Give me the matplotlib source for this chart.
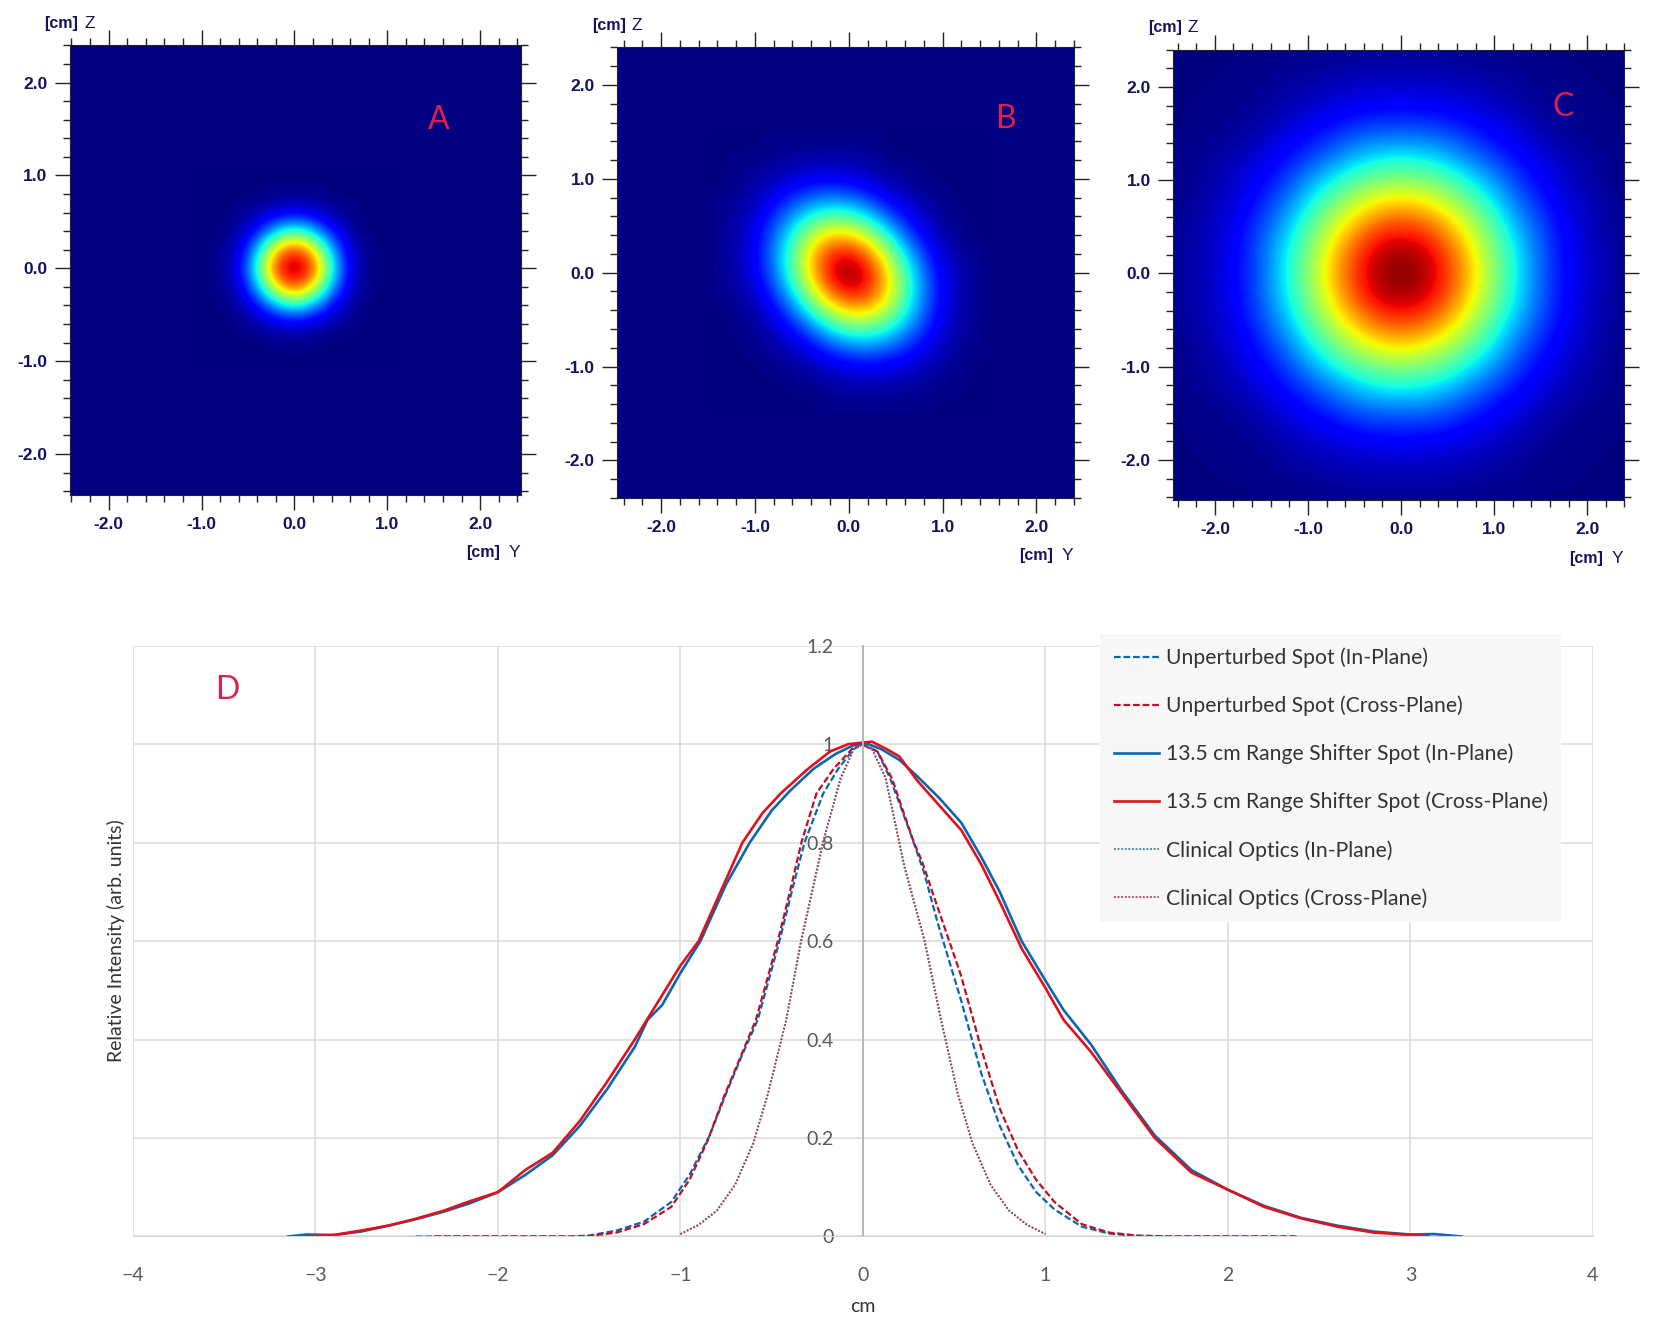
from matplotlib import pyplot as plt
from matplotlib.lines import Line2D
import numpy as np

W, H = 1568.0, 1254.0   # coordinates I measured the layout in

spot_a = [
	[100, 88, 40, 9, 1, 0],
	[88, 67, 30, 7, 1, 0],
	[40, 30, 13, 3, 0, 0],
	[9, 7, 3, 1, 0, 0],
	[1, 1, 0, 0, 0, 0],
	[0, 0, 0, 0, 0, 0],
]

# spot B is tilted so the whole grid is listed, top row z=+1.4, left col y=-1.4
spot_b = [
	[0, 0, 0, 1, 1, 1, 1, 1, 1, 0, 0, 0, 0, 0, 0],
	[0, 1, 1, 2, 3, 4, 4, 4, 3, 1, 1, 0, 0, 0, 0],
	[0, 1, 3, 5, 8, 10, 11, 10, 7, 4, 2, 1, 0, 0, 0],
	[1, 2, 5, 10, 17, 22, 25, 23, 18, 11, 6, 3, 1, 0, 0],
	[1, 3, 8, 17, 28, 39, 45, 44, 35, 23, 13, 6, 2, 1, 0],
	[1, 4, 10, 22, 39, 57, 69, 69, 58, 40, 23, 11, 4, 1, 0],
	[1, 4, 11, 25, 45, 69, 87, 91, 80, 58, 35, 18, 7, 3, 1],
	[1, 4, 10, 23, 44, 69, 91, 100, 91, 69, 44, 23, 10, 4, 1],
	[1, 3, 7, 18, 35, 58, 80, 91, 87, 69, 45, 25, 11, 4, 1],
	[0, 1, 4, 11, 23, 40, 58, 69, 69, 57, 39, 22, 10, 4, 1],
	[0, 1, 2, 6, 13, 23, 35, 44, 45, 39, 28, 17, 8, 3, 1],
	[0, 0, 1, 3, 6, 11, 18, 23, 25, 22, 17, 10, 5, 2, 1],
	[0, 0, 0, 1, 2, 4, 7, 10, 11, 10, 8, 5, 3, 1, 0],
	[0, 0, 0, 0, 1, 1, 3, 4, 4, 4, 3, 2, 1, 1, 0],
	[0, 0, 0, 0, 0, 0, 1, 1, 1, 1, 1, 1, 0, 0, 0],
]

# spot C, one quadrant, 0.2 cm cells
spot_c = [
	[100, 97, 90, 79, 66, 52, 39, 27, 18, 12, 7, 4, 2],
	[97, 95, 88, 77, 64, 50, 38, 27, 18, 11, 7, 4, 2],
	[90, 88, 81, 71, 59, 47, 35, 25, 17, 11, 6, 4, 2],
	[79, 77, 71, 62, 52, 41, 30, 22, 15, 9, 6, 3, 2],
	[66, 64, 59, 52, 43, 34, 25, 18, 12, 8, 5, 3, 1],
	[52, 50, 47, 41, 34, 27, 20, 14, 10, 6, 4, 2, 1],
	[39, 38, 35, 30, 25, 20, 15, 11, 7, 5, 3, 2, 1],
	[27, 27, 25, 22, 18, 14, 11, 7, 5, 3, 2, 1, 1],
	[18, 18, 17, 15, 12, 10, 7, 5, 3, 2, 1, 1, 0],
	[12, 11, 11, 9, 8, 6, 5, 3, 2, 1, 1, 1, 0],
	[7, 7, 6, 6, 5, 4, 3, 2, 1, 1, 1, 0, 0],
	[4, 4, 4, 3, 3, 2, 2, 1, 1, 1, 0, 0, 0],
	[2, 2, 2, 2, 1, 1, 1, 1, 0, 0, 0, 0, 0],
]

# profiles in panel D
rs_in_x = [-3.15, -3.05, -2.9, -2.75, -2.6, -2.45, -2.3, -2.15, -2.0, -1.85, -1.7, -1.55, -1.4, -1.25, -1.18, -1.1, -1.0, -0.89, -0.75, -0.62, -0.5, -0.4, -0.27, -0.15, -0.05, 0.03, 0.1, 0.2, 0.3, 0.42, 0.54, 0.65, 0.75, 0.87, 1.0, 1.1, 1.25, 1.42, 1.6, 1.8, 2.0, 2.2, 2.4, 2.6, 2.8, 3.0, 3.13, 3.28]
rs_in_y = [0.0, 0.004, 0.003, 0.01, 0.022, 0.035, 0.05, 0.068, 0.09, 0.125, 0.165, 0.225, 0.3, 0.385, 0.44, 0.47, 0.535, 0.6, 0.715, 0.8, 0.865, 0.905, 0.95, 0.98, 0.998, 1.0, 0.99, 0.968, 0.934, 0.89, 0.84, 0.77, 0.7, 0.6, 0.52, 0.46, 0.39, 0.295, 0.205, 0.135, 0.095, 0.062, 0.038, 0.022, 0.01, 0.004, 0.005, 0.0]
rs_cross_x = [-3.05, -2.9, -2.75, -2.6, -2.45, -2.3, -2.15, -2.0, -1.85, -1.7, -1.55, -1.4, -1.25, -1.1, -1.0, -0.9, -0.78, -0.66, -0.55, -0.45, -0.3, -0.18, -0.08, 0.05, 0.13, 0.2, 0.3, 0.42, 0.54, 0.65, 0.75, 0.87, 1.0, 1.1, 1.25, 1.42, 1.6, 1.8, 2.0, 2.2, 2.4, 2.6, 2.8, 3.0, 3.1]
rs_cross_y = [0.0, 0.003, 0.012, 0.022, 0.036, 0.052, 0.072, 0.09, 0.135, 0.17, 0.235, 0.315, 0.4, 0.49, 0.55, 0.6, 0.7, 0.8, 0.86, 0.9, 0.95, 0.985, 1.0, 1.005, 0.99, 0.975, 0.925, 0.875, 0.825, 0.755, 0.68, 0.585, 0.505, 0.44, 0.375, 0.29, 0.2, 0.13, 0.095, 0.06, 0.037, 0.02, 0.008, 0.003, 0.0]
unp_in_x = [-2.45, -1.6, -1.5, -1.35, -1.2, -1.05, -0.95, -0.84, -0.75, -0.66, -0.576, -0.457, -0.39, -0.32, -0.217, -0.135, -0.05, 0.0, 0.08, 0.15, 0.25, 0.335, 0.41, 0.538, 0.65, 0.75, 0.85, 0.95, 1.05, 1.2, 1.35, 1.5, 1.7, 2.38]
unp_in_y = [0.0, 0.0, 0.002, 0.012, 0.03, 0.07, 0.125, 0.205, 0.29, 0.37, 0.44, 0.6, 0.7, 0.8, 0.9, 0.95, 0.99, 1.0, 0.985, 0.93, 0.83, 0.74, 0.637, 0.48, 0.33, 0.225, 0.145, 0.09, 0.055, 0.02, 0.006, 0.001, 0.0, 0.0]
unp_cross_x = [-2.35, -1.6, -1.5, -1.35, -1.2, -1.05, -0.95, -0.85, -0.76, -0.67, -0.586, -0.466, -0.4, -0.337, -0.254, -0.16, -0.06, -0.01, 0.08, 0.16, 0.225, 0.28, 0.326, 0.39, 0.538, 0.65, 0.75, 0.85, 0.95, 1.05, 1.2, 1.35, 1.5, 1.7, 2.38]
unp_cross_y = [0.0, 0.0, 0.001, 0.008, 0.025, 0.06, 0.115, 0.195, 0.285, 0.365, 0.44, 0.6, 0.7, 0.8, 0.9, 0.95, 0.99, 1.0, 0.985, 0.93, 0.859, 0.8, 0.76, 0.69, 0.53, 0.38, 0.26, 0.175, 0.115, 0.07, 0.025, 0.008, 0.002, 0.0, 0.0]
clin_in_x = [-1.0, -0.9, -0.8, -0.7, -0.6, -0.52, -0.42, -0.337, -0.217, -0.125, -0.05, 0.0, 0.05, 0.123, 0.225, 0.335, 0.427, 0.52, 0.6, 0.7, 0.8, 0.9, 1.0]
clin_in_y = [0.005, 0.024, 0.053, 0.105, 0.19, 0.29, 0.44, 0.6, 0.8, 0.93, 0.99, 1.0, 0.99, 0.934, 0.753, 0.603, 0.44, 0.29, 0.19, 0.105, 0.053, 0.024, 0.005]
clin_cross_x = [-1.0, -0.9, -0.8, -0.7, -0.6, -0.52, -0.42, -0.34, -0.22, -0.12, -0.05, 0.0, 0.05, 0.125, 0.23, 0.34, 0.43, 0.52, 0.6, 0.7, 0.8, 0.9, 1.0]
clin_cross_y = [0.005, 0.023, 0.052, 0.105, 0.19, 0.29, 0.44, 0.6, 0.8, 0.93, 0.99, 1.0, 0.99, 0.93, 0.75, 0.6, 0.44, 0.29, 0.19, 0.105, 0.053, 0.023, 0.005]

y_labels = ['0', '0.2', '0.4', '0.6', '0.8', '1', '1.2']
y_ticks = [0, 0.2, 0.4, 0.6, 0.8, 1.0, 1.2]
x_ticks = [-4, -3, -2, -1, 0, 1, 2, 3, 4]

NAVY = '#14145e'
CRIMSON = '#dc1f4f'
GREY = '#595959'
BLUE = '#0b66b2'
RED = '#e3101c'
DARK_RED = '#c00f22'
TEAL = '#2f7fa8'
ROSE = '#b8404e'


def box(l, t, r, b):
	return [l / W, 1 - b / H, (r - l) / W, (b - t) / H]


def put(fig, x, y, s, **kw):
	fig.text(x / W, 1 - y / H, s, **kw)


# mirror a quadrant into the full grid, centre cell kept once
def mirror(q):
	q = np.array(q, dtype=float)
	right = np.hstack([q[:, :0:-1], q])
	return np.vstack([right[:0:-1], right])


def draw_spot(fig, grid, half, frame, lims, letter, letter_xy):
	l, t, r, b = frame
	ax = fig.add_axes(box(l, t, r, b))
	ax.set_facecolor(plt.cm.jet(0.0))
	ax.imshow(grid, extent=[-half, half, -half, half], cmap='jet', vmin=0, vmax=100,
		interpolation='bicubic', origin='upper', aspect='auto')
	ax.set_xlim(lims[0], lims[1])
	ax.set_ylim(lims[2], lims[3])
	major = [-2, -1, 0, 1, 2]
	ax.set_xticks(major)
	ax.set_yticks(major)
	ax.set_xticks(np.arange(-2.4, 2.41, 0.2), minor=True)
	ax.set_yticks(np.arange(-2.4, 2.41, 0.2), minor=True)
	ax.set_xticklabels(['-2.0', '-1.0', '0.0', '1.0', '2.0'])
	ax.set_yticklabels(['-2.0', '-1.0', '0.0', '1.0', '2.0'])
	ax.tick_params(which='major', direction='out', length=11, width=1, color='#222222',
		top=True, right=True, labelcolor=NAVY, pad=5, labelsize=12.5)
	ax.tick_params(which='minor', direction='out', length=5, width=1, color='#222222',
		top=True, right=True)
	for lab in ax.get_xticklabels() + ax.get_yticklabels():
		lab.set_fontweight('bold')
		lab.set_family('Liberation Sans')
	for s in ax.spines.values():
		s.set_linewidth(0.8)
		s.set_color('#222222')
	# axis captions, bold unit and plain letter
	put(fig, l - 24, t - 21, '[cm]', fontsize=11.5, fontweight='bold', color=NAVY,
		family='Liberation Sans', va='center')
	put(fig, l + 14, t - 21, 'Z', fontsize=12.5, color=NAVY, family='Liberation Sans', va='center')
	put(fig, r - 52, b + 55, '[cm]', fontsize=11.5, fontweight='bold', color=NAVY,
		family='Liberation Sans', va='center')
	put(fig, r - 12, b + 55, 'Y', fontsize=12.5, color=NAVY, family='Liberation Sans', va='center')
	put(fig, letter_xy[0], letter_xy[1], letter, fontsize=23, color=CRIMSON, family='Lato',
		ha='center', va='center')


def draw_profiles(fig):
	ax = fig.add_axes(box(126, 612, 1510, 1172))
	ax.set_xlim(-4, 4)
	ax.set_ylim(0, 1.2)
	ax.set_xticks(x_ticks)
	ax.set_yticks(y_ticks)
	ax.set_yticklabels(y_labels)
	ax.grid(True, color='#dadada', linewidth=1.1)
	ax.set_axisbelow(True)
	for s in ['top', 'right']:
		ax.spines[s].set_visible(False)
	ax.spines['bottom'].set_color('#d4d4d4')
	ax.spines['left'].set_position(('data', 0))
	ax.spines['left'].set_color('#b8b8b8')
	ax.spines['left'].set_linewidth(1.4)
	ax.tick_params(length=0, labelsize=14, labelcolor=GREY)
	ax.tick_params(axis='x', pad=22)
	ax.tick_params(axis='y', pad=21)
	for lab in ax.get_xticklabels() + ax.get_yticklabels():
		lab.set_family('Lato')
	dash = (0, (3.0, 1.3))
	dot = (0, (1.0, 1.0))
	ax.plot(unp_in_x, unp_in_y, color=BLUE, lw=1.6, ls=dash, label='Unperturbed Spot (In-Plane)')
	ax.plot(unp_cross_x, unp_cross_y, color=DARK_RED, lw=1.6, ls=dash, label='Unperturbed Spot (Cross-Plane)')
	ax.plot(rs_in_x, rs_in_y, color=BLUE, lw=1.9, label='13.5 cm Range Shifter Spot (In-Plane)')
	ax.plot(rs_cross_x, rs_cross_y, color=RED, lw=1.9, label='13.5 cm Range Shifter Spot (Cross-Plane)')
	ax.plot(clin_in_x, clin_in_y, color=TEAL, lw=1.3, ls=dot, label='Clinical Optics (In-Plane)')
	ax.plot(clin_cross_x, clin_cross_y, color=ROSE, lw=1.3, ls=dot, label='Clinical Optics (Cross-Plane)')
	leg = ax.legend(loc='upper left', bbox_to_anchor=(1043 / W, 1 - 601 / H), bbox_transform=fig.transFigure,
		prop={'family': 'Lato', 'size': 15.2}, frameon=True, facecolor='#f7f7f7', edgecolor='none',
		fancybox=False, framealpha=1, handlelength=2.15, handletextpad=0.3, labelspacing=1.3,
		borderpad=0.65, borderaxespad=0, labelcolor='#333333')
	leg.set_zorder(5)
	put(fig, 110, 892, 'Relative Intensity (arb. units)', fontsize=14, rotation=90, color='#333333',
		family='Lato', ha='center', va='center')
	put(fig, 818, 1238, 'cm', fontsize=14, color='#333333', family='Lato', ha='center', va='center')
	put(fig, 215, 654, 'D', fontsize=23, color=CRIMSON, family='Lato', ha='center', va='center')


if __name__ == '__main__':
	fig = plt.figure(figsize=(16.54, 13.23), dpi=100)
	draw_spot(fig, mirror(spot_a), 1.1, (66, 43, 494, 469), (-2.42, 2.44, -2.44, 2.4), 'A', (416, 114))
	draw_spot(fig, np.array(spot_b, dtype=float), 1.5, (585, 45, 1018, 472), (-2.47, 2.39, -2.4, 2.4), 'B', (953, 113))
	draw_spot(fig, mirror(spot_c), 2.5, (1112, 47, 1540, 474), (-2.45, 2.4, -2.43, 2.4), 'C', (1482, 101))
	draw_profiles(fig)
	fig.savefig('out.png', dpi=100)
